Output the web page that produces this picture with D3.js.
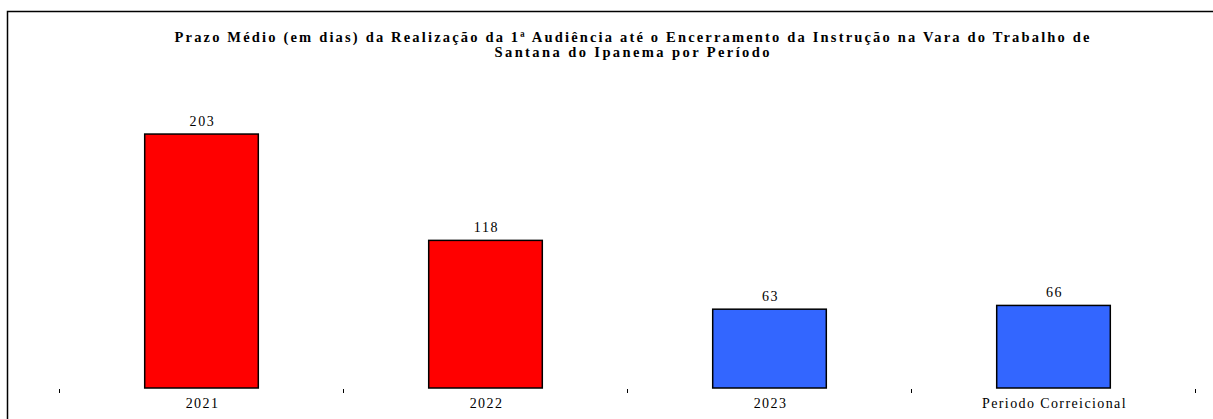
<!DOCTYPE html>
<html>
<head>
<meta charset="utf-8">
<script src="https://cdn.jsdelivr.net/npm/d3@7"></script>
<style>
  html, body { margin: 0; padding: 0; background: #fff; }
  svg { display: block; }
</style>
</head>
<body>
<svg id="chart" width="1213" height="419"></svg>
<script>
const categories = ["2021", "2022", "2023", "Periodo Correicional"];
const values = [203, 118, 63, 66];
const colors = ["#FF0000", "#FF0000", "#3366FF", "#3366FF"];
const titleLines = [
  "Prazo Médio (em dias) da Realização da 1ª Audiência até o Encerramento da Instrução na Vara do Trabalho de",
  "Santana do Ipanema por Período"
];
const titleWidths = [915, 275];

const svg = d3.select("#chart");
const W = 1213, H = 419;
const font = "'Liberation Serif', 'Times New Roman', serif";

// frame
svg.append("path")
  .attr("d", `M7.5,${H + 2} V11.5 H${W + 2}`)
  .attr("fill", "none").attr("stroke", "#000").attr("stroke-width", 1.5);

// title
svg.append("g").selectAll("text").data(titleLines).enter().append("text")
  .attr("x", 632).attr("y", (d, i) => 42 + i * 15)
  .attr("text-anchor", "middle")
  .attr("font-family", font).attr("font-weight", "bold").attr("font-size", 14.5)
  .attr("textLength", (d, i) => titleWidths[i])
  .attr("lengthAdjust", "spacing")
  .text(d => d);

const x = d3.scaleBand().domain(categories).range([59.5, 1195.5]).paddingInner(0.6).paddingOuter(0.3);
const y = d3.scaleLinear().domain([0, 250]).range([388, 75.25]);

// bars
svg.append("g").selectAll("rect").data(categories).enter().append("rect")
  .attr("x", d => x(d))
  .attr("y", (d, i) => y(values[i]))
  .attr("width", x.bandwidth())
  .attr("height", (d, i) => y(0) - y(values[i]))
  .attr("fill", (d, i) => colors[i])
  .attr("stroke", "#000").attr("stroke-width", 1.5);

// value labels
svg.append("g").selectAll("text").data(categories).enter().append("text")
  .attr("x", d => x(d) + x.bandwidth() / 2 + 1)
  .attr("y", (d, i) => y(values[i]) - 8)
  .attr("text-anchor", "middle")
  .attr("font-family", font).attr("font-size", 14)
  .attr("letter-spacing", 1.6)
  .text((d, i) => values[i]);

// x axis ticks at band boundaries
const tickXs = d3.range(categories.length + 1).map(i => 59.5 + i * (1195.5 - 59.5) / categories.length);
svg.append("g").selectAll("line").data(tickXs).enter().append("line")
  .attr("x1", d => d).attr("x2", d => d)
  .attr("y1", 389).attr("y2", 393)
  .attr("stroke", "#000").attr("stroke-width", 1);

// category labels
svg.append("g").selectAll("text").data(categories).enter().append("text")
  .attr("x", d => x(d) + x.bandwidth() / 2 + 1)
  .attr("y", 408)
  .attr("text-anchor", "middle")
  .attr("font-family", font).attr("font-size", 14)
  .attr("letter-spacing", 1.4)
  .text(d => d);
</script>
</body>
</html>
